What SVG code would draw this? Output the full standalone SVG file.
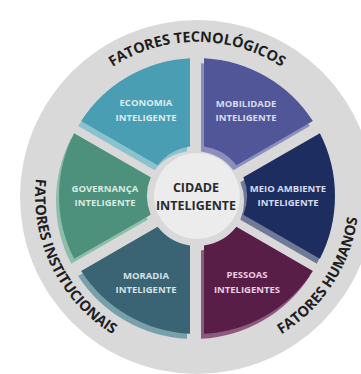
<svg xmlns="http://www.w3.org/2000/svg" width="361" height="374" viewBox="0 0 361 374">
  <style>
    .ring { fill: #d9d9d9; }
    .hub { fill: #ececec; }
    .label { font-family: "Open Sans", "DejaVu Sans", sans-serif; font-weight: 700; font-size: 9.5px; text-anchor: middle; }
    .hubtext { font-family: "Open Sans", "DejaVu Sans", sans-serif; font-weight: 700; font-size: 12.5px; text-anchor: middle; fill: #2b2b2b; }
    .arc { font-family: "Open Sans", "DejaVu Sans", sans-serif; font-weight: 700; font-size: 14.5px; fill: #1e1e1e; }
    .shade { transform: translate(-3px, 5px); }
  </style>
  <defs>
    <!-- caption baselines, all centred on the hub (197,196) -->
    <path id="arcTop" d="M 45.3 169.3 A 154 154 0 0 1 348.7 169.3" fill="none"/>
    <path id="arcLeft" d="M 80.0 84.0 A 162 162 0 0 0 214.6 357.0" fill="none"/>
    <path id="arcRight" d="M 160.0 353.7 A 162 162 0 0 0 326.7 99.0" fill="none"/>
  </defs>

  <!-- outer band -->
  <circle class="ring" cx="197" cy="197" r="177"/>

  <!-- segments: lighter copy behind gives the raised edge -->
  <g id="economia">
    <path class="shade" fill="#8cc2ce" d="M 81.14 121.03 A 138 138 0 0 1 190 58.17 L 190 146.5 A 50 50 0 0 0 157.63 165.19 Z"/>
    <path fill="#4a9eb4" d="M 81.14 121.03 A 138 138 0 0 1 190 58.17 L 190 146.5 A 50 50 0 0 0 157.63 165.19 Z"/>
    <text class="label" fill="#dcebf0" x="146" y="106">ECONOMIA</text>
    <text class="label" fill="#dcebf0" x="146" y="120.5">INTELIGENTE</text>
  </g>

  <g id="mobilidade">
    <path class="shade" fill="#8c8ebe" d="M 204 58.17 A 138 138 0 0 1 312.86 121.03 L 236.37 165.19 A 50 50 0 0 0 204 146.5 Z"/>
    <path fill="#505698" d="M 204 58.17 A 138 138 0 0 1 312.86 121.03 L 236.37 165.19 A 50 50 0 0 0 204 146.5 Z"/>
    <text class="label" fill="#d9dcf0" x="246" y="107">MOBILIDADE</text>
    <text class="label" fill="#d9dcf0" x="246" y="121">INTELIGENTE</text>
  </g>

  <g id="meio-ambiente">
    <path class="shade" fill="#6e7a96" d="M 319.86 133.15 A 138 138 0 0 1 319.86 258.85 L 243.37 214.69 A 50 50 0 0 0 243.37 177.31 Z"/>
    <path fill="#1e2d5f" d="M 319.86 133.15 A 138 138 0 0 1 319.86 258.85 L 243.37 214.69 A 50 50 0 0 0 243.37 177.31 Z"/>
    <text class="label" fill="#d4dcec" x="288" y="192">MEIO AMBIENTE</text>
    <text class="label" fill="#d4dcec" x="288" y="206">INTELIGENTE</text>
  </g>

  <g id="pessoas">
    <path class="shade" fill="#8c5a7d" d="M 312.86 270.97 A 138 138 0 0 1 204 333.83 L 204 245.5 A 50 50 0 0 0 236.37 226.81 Z"/>
    <path fill="#581e48" d="M 312.86 270.97 A 138 138 0 0 1 204 333.83 L 204 245.5 A 50 50 0 0 0 236.37 226.81 Z"/>
    <text class="label" fill="#ebcde1" x="247" y="278">PESSOAS</text>
    <text class="label" fill="#ebcde1" x="247" y="293">INTELIGENTES</text>
  </g>

  <g id="moradia">
    <path class="shade" fill="#78a0aa" d="M 190 333.83 A 138 138 0 0 1 81.14 270.97 L 157.63 226.81 A 50 50 0 0 0 190 245.5 Z"/>
    <path fill="#3a6473" d="M 190 333.83 A 138 138 0 0 1 81.14 270.97 L 157.63 226.81 A 50 50 0 0 0 190 245.5 Z"/>
    <text class="label" fill="#d4e3e8" x="146" y="279">MORADIA</text>
    <text class="label" fill="#d4e3e8" x="146" y="293">INTELIGENTE</text>
  </g>

  <g id="governanca">
    <path class="shade" fill="#8cbeaa" d="M 74.14 258.85 A 138 138 0 0 1 74.14 133.15 L 150.63 177.31 A 50 50 0 0 0 150.63 214.69 Z"/>
    <path fill="#4d907c" d="M 74.14 258.85 A 138 138 0 0 1 74.14 133.15 L 150.63 177.31 A 50 50 0 0 0 150.63 214.69 Z"/>
    <text class="label" fill="#d9ebe3" x="105" y="192">GOVERNANÇA</text>
    <text class="label" fill="#d9ebe3" x="105" y="206">INTELIGENTE</text>
  </g>

  <g id="cidade">
    <circle class="hub" cx="197" cy="196" r="43"/>
    <text class="hubtext" x="196" y="192">CIDADE</text>
    <text class="hubtext" x="196" y="210">INTELIGENTE</text>
  </g>

  <!-- factor captions around the band -->
  <g id="fatores">
    <text class="arc"><textPath href="#arcTop" startOffset="50%" text-anchor="middle" textLength="179" lengthAdjust="spacing">FATORES TECNOLÓGICOS</textPath></text>
    <text class="arc"><textPath href="#arcLeft" startOffset="50%" text-anchor="middle" textLength="183" lengthAdjust="spacing">FATORES INSTITUCIONAIS</textPath></text>
    <text class="arc"><textPath href="#arcRight" startOffset="50%" text-anchor="middle" textLength="144" lengthAdjust="spacing">FATORES HUMANOS</textPath></text>
  </g>
</svg>
